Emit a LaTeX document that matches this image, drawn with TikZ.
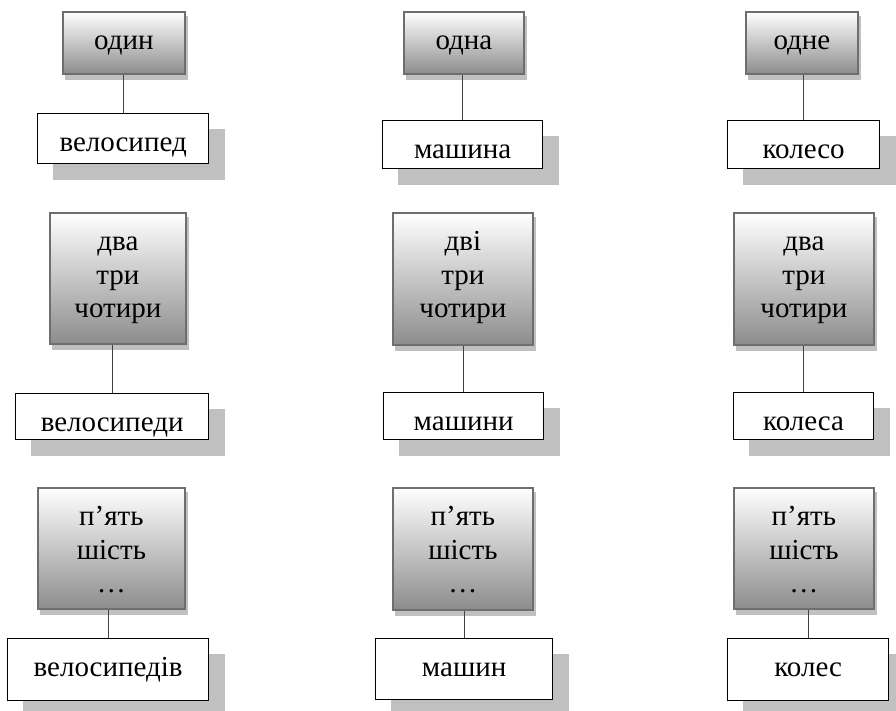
\documentclass[tikz,border=0pt]{standalone}
\usepackage{fontspec}
\setmainfont{Liberation Serif}
\usetikzlibrary{backgrounds}
\definecolor{tborder}{HTML}{6E6E6E}
\definecolor{shd}{HTML}{C0C0C0}
\definecolor{connc}{HTML}{404040}
\newcommand\bx[3]{\parbox[c][#2pt][t]{#1pt}{\centering\rule{0pt}{38pt}#3}}
\begin{document}
\begin{tikzpicture}[x=1pt,y=-1pt,
  every node/.style={font=\fontsize{29pt}{33.5pt}\selectfont},
  topbox/.style={draw=tborder, line width=1.8pt, top color=white, bottom color=black!45, inner sep=0pt, anchor=north west},
  botbox/.style={draw=black, line width=1.3pt, fill=white, inner sep=0pt, anchor=north west},
  connline/.style={draw=connc, line width=0.9pt},
  smallshadow/.style={fill=shd},
  bigshadow/.style={fill=shd}]
\begin{scope}[on background layer]
  \fill[white] (0,0) rectangle (896,710);
\end{scope}
\useasboundingbox (0,0) rectangle (896,710);

% column 1
\node[topbox] (a1) at (62,11)  {\bx{122}{62}{один}};
\node[botbox] (b1) at (37,113) {\bx{171}{50}{велосипед}};
\node[topbox] (a2) at (49,212) {\bx{136}{131}{два\\три\\чотири}};
\node[botbox] (b2) at (15,393) {\bx{193}{46}{велосипеди}};
\node[topbox] (a3) at (37,487) {\bx{147}{121}{п’ять\\шість\\…}};
\node[botbox] (b3) at (7,638)  {\bx{201}{62}{велосипедів}};

% column 2
\node[topbox] (c1) at (403,11)  {\bx{120}{62}{одна}};
\node[botbox] (d1) at (382,120) {\bx{160}{48}{машина}};
\node[topbox] (c2) at (392,212) {\bx{140}{132}{дві\\три\\чотири}};
\node[botbox] (d2) at (383,392) {\bx{160}{47}{машини}};
\node[topbox] (c3) at (392,487) {\bx{140}{122}{п’ять\\шість\\…}};
\node[botbox] (d3) at (375,638) {\bx{177}{61}{машин}};

% column 3
\node[topbox] (e1) at (745,11)  {\bx{112}{62}{одне}};
\node[botbox] (f1) at (727,120) {\bx{152}{48}{колесо}};
\node[topbox] (e2) at (733,212) {\bx{140}{132}{два\\три\\чотири}};
\node[botbox] (f2) at (733,392) {\bx{140}{47}{колеса}};
\node[topbox] (e3) at (733,487) {\bx{140}{121}{п’ять\\шість\\…}};
\node[botbox] (f3) at (727,638) {\bx{161}{62}{колес}};

% connectors
\foreach \t/\b in {a1/b1,a2/b2,a3/b3,c1/d1,c2/d2,c3/d3,e1/f1,e2/f2,e3/f3}
  \draw[connline] (\b.north) -- (\b.north |- \t.south);

% shadows
\begin{scope}[on background layer]
  \foreach \n in {a1,a2,a3,c1,c2,c3,e1,e2,e3}
    \path[smallshadow] ([shift={(2.5,5)}]\n.south west) rectangle ([shift={(2.5,5)}]\n.north east);
  \foreach \n in {b1,b2,b3,d1,d2,d3,f1,f2,f3}
    \path[bigshadow] ([shift={(16,16)}]\n.south west) rectangle ([shift={(16,16)}]\n.north east);
\end{scope}
\end{tikzpicture}
\end{document}
